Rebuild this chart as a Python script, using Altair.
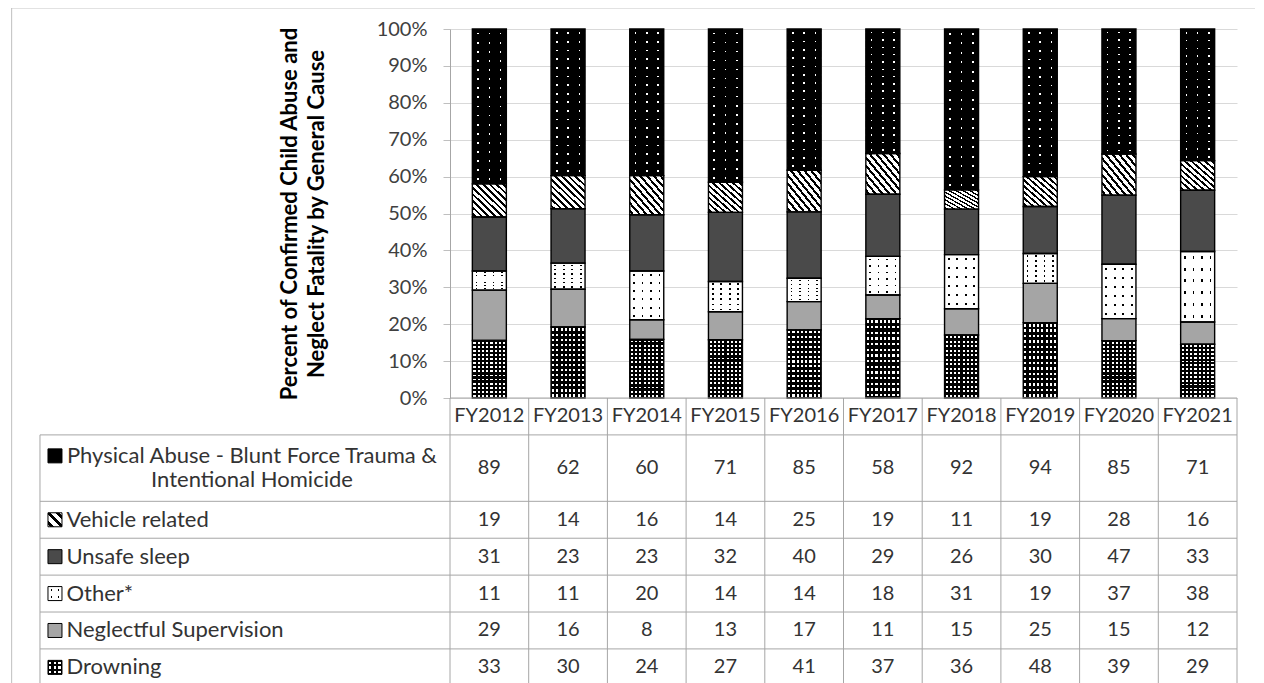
import altair as alt
import pandas as pd

# ---------------- data ----------------
years = ["FY2012", "FY2013", "FY2014", "FY2015", "FY2016",
         "FY2017", "FY2018", "FY2019", "FY2020", "FY2021"]
causes = ["Physical Abuse - Blunt Force Trauma & Intentional Homicide",
          "Vehicle related", "Unsafe sleep", "Other*",
          "Neglectful Supervision", "Drowning"]
cause_lines = [["Physical Abuse - Blunt Force Trauma &", "Intentional Homicide"],
               ["Vehicle related"], ["Unsafe sleep"], ["Other*"],
               ["Neglectful Supervision"], ["Drowning"]]
physical = [89, 62, 60, 71, 85, 58, 92, 94, 85, 71]
vehicle = [19, 14, 16, 14, 25, 19, 11, 19, 28, 16]
unsafe = [31, 23, 23, 32, 40, 29, 26, 30, 47, 33]
other = [11, 11, 20, 14, 14, 18, 31, 19, 37, 38]
neglect = [29, 16, 8, 13, 17, 11, 15, 25, 15, 12]
drowning = [33, 30, 24, 27, 41, 37, 36, 48, 39, 29]
series = [physical, vehicle, unsafe, other, neglect, drowning]
y_title = ["Percent of Confirmed Child Abuse and", "Neglect Fatality by General Cause"]

# ---------------- layout (plot units) ----------------
PLOT_W, PLOT_H = 787, 369
BAR_W = 0.432            # bar width as a fraction of a column
TABLE_LEFT = -5.21       # left edge of the legend column (column units)
FRAME_LEFT = -5.57
FRAME_TOP = 1.057
FRAME_RIGHT = 10.4
HEADER_H = 0.1
ROW_H = 0.1
EXTRA_LINE = 0.8
LINE_PX = 24.5
BOTTOM = -1.0
FONT = "Lato"
TXT = "#333333"
TABLE_LINE = "#a6a6a6"

# long table
recs = []
n_c = len(causes)
for ci, (c, vals) in enumerate(zip(causes, series)):
    for yi, (yr, v) in enumerate(zip(years, vals)):
        recs.append(dict(year=yr, idx=yi, cause=c, count=v,
                         stack_order=n_c - 1 - ci))
df = pd.DataFrame(recs)

# table rows
rows = []
top = -HEADER_H
for ci, c in enumerate(causes):
    nl = len(cause_lines[ci])
    h = ROW_H * (1 + EXTRA_LINE * (nl - 1))
    mid = top - h / 2
    rows.append(dict(cause=c, top=top, bottom=top - h, mid=mid,
                     key_y=mid + (nl - 1) * (LINE_PX / PLOT_H) / 2,
                     lines=cause_lines[ci], nlines=nl, tl=TABLE_LEFT,
                     tc=TABLE_LEFT / 2))
    top -= h
rows_df = pd.DataFrame(rows)
num_df = df.merge(rows_df[["cause", "mid"]], on="cause")
num_df["cx"] = num_df["idx"] + 0.5
hdr_df = pd.DataFrame(dict(year=years, cx=[i + 0.5 for i in range(len(years))],
                           cy=[-HEADER_H / 2] * len(years)))

hlines = [dict(y=0.0, x=0.0, x2=float(len(years)))]
hlines.append(dict(y=-HEADER_H, x=TABLE_LEFT, x2=float(len(years))))
for r in rows:
    hlines.append(dict(y=r["bottom"], x=TABLE_LEFT, x2=float(len(years))))
hl_df = pd.DataFrame(hlines)
vlines = [dict(x=float(i), y=0.0, y2=BOTTOM) for i in range(len(years) + 1)]
vlines.append(dict(x=TABLE_LEFT, y=-HEADER_H, y2=BOTTOM))
vl_df = pd.DataFrame(vlines)
frame_df = pd.DataFrame([dict(x=FRAME_LEFT, x2=FRAME_RIGHT, y=FRAME_TOP, y2=BOTTOM)])

XS = alt.Scale(domain=[0, 10], nice=False, zero=False)
YS = alt.Scale(domain=[0, 1], nice=False, zero=False)

yaxis = alt.Axis(
    values=[i / 10 for i in range(11)], format=".0%",
    labelFont=FONT, labelFontSize=20, labelColor="#404040", labelPadding=16,
    tickSize=7, tickColor="#bfbfbf", domainColor=TABLE_LINE,
    grid=True, gridColor="#d9d9d9",
    title=y_title, titleFont=FONT, titleFontSize=22, titleFontWeight="bold",
    titleColor="#000000", titleLineHeight=27, titlePadding=48)


def X(f):
    return alt.X(f, type="quantitative", scale=XS, axis=None)


def Y(f):
    return alt.Y(f, type="quantitative", scale=YS, axis=yaxis)


def stripes(n, frac, on, off, orient):
    stops = []
    for k in range(n):
        a = (k + 0.5 - frac / 2) / n
        b = (k + 0.5 + frac / 2) / n
        stops += [(off, k / n), (off, a), (on, a), (on, b), (off, b)]
    stops.append((off, 1.0))
    coords = {"x": dict(x1=0, y1=0, x2=1, y2=0),
              "y": dict(x1=0, y1=0, x2=0, y2=1),
              "d": dict(x1=0, y1=1, x2=1, y2=0)}[orient]
    return alt.LinearGradient(
        gradient="linear",
        stops=[alt.GradientStop(color=c, offset=round(o, 5)) for c, o in stops],
        **coords)


CLEAR_K = "rgba(0,0,0,0)"
CLEAR_W = "rgba(255,255,255,0)"
bar_fills = {
    causes[0]: [stripes(3, 0.14, "#ffffff", "#000000", "x"),
                stripes(17, 0.2, CLEAR_K, "#000000", "y")],
    causes[1]: [stripes(10, 0.4, "#000000", "#ffffff", "d")],
    causes[2]: ["#4a4a4a"],
    causes[3]: [stripes(4, 0.2, "#000000", "#ffffff", "x"),
                stripes(6, 0.25, CLEAR_W, "#ffffff", "y")],
    causes[4]: ["#a5a5a5"],
    causes[5]: [stripes(8, 0.5, "#ffffff", "#000000", "x"),
                stripes(14, 0.45, CLEAR_K, "#000000", "y")],
}
key_fills = {
    causes[0]: ["#000000"],
    causes[1]: [stripes(3, 0.45, "#000000", "#ffffff", "d")],
    causes[2]: ["#4a4a4a"],
    causes[3]: [stripes(2, 0.25, "#000000", "#ffffff", "x"),
                stripes(2, 0.25, CLEAR_W, "#ffffff", "y")],
    causes[4]: ["#a5a5a5"],
    causes[5]: [stripes(3, 0.5, "#ffffff", "#000000", "x"),
                stripes(3, 0.5, CLEAR_K, "#000000", "y")],
}

layers = []

# outer frame
frame = alt.Chart(frame_df)
layers.append(frame.mark_rule(color="#bfbfbf", strokeWidth=1).encode(
    x=X("x"), y=Y("y"), y2="y2"))
layers.append(frame.mark_rule(color="#bfbfbf", strokeWidth=1).encode(
    x=X("x"), x2="x2", y=Y("y")))

# stacked bars
bars = alt.Chart(df).transform_stack(
    stack="count", groupby=["year"], as_=["y0", "y1"], offset="normalize",
    sort=[alt.SortField("stack_order", order="ascending")]
).transform_calculate(
    bx0=f"datum.idx + 0.5 - {BAR_W / 2}",
    bx1=f"datum.idx + 0.5 + {BAR_W / 2}",
)

for c in causes:
    for f in bar_fills[c]:
        layers.append(bars.transform_filter(alt.datum.cause == c).mark_bar(
            fill=f, strokeWidth=0).encode(
            x=X("bx0"), x2="bx1", y=Y("y0"), y2="y1"))
layers.append(bars.mark_bar(fillOpacity=0, stroke="#000000", strokeWidth=1.4).encode(
    x=X("bx0"), x2="bx1", y=Y("y0"), y2="y1"))

# table grid
layers.append(alt.Chart(hl_df).mark_rule(color=TABLE_LINE, strokeWidth=1).encode(
    x=X("x"), x2="x2", y=Y("y")))
layers.append(alt.Chart(vl_df).mark_rule(color=TABLE_LINE, strokeWidth=1).encode(
    x=X("x"), y=Y("y"), y2="y2"))

# header and numbers
layers.append(alt.Chart(hdr_df).mark_text(
    font=FONT, fontSize=20, color=TXT, baseline="middle", align="center").encode(
    x=X("cx"), y=Y("cy"), text="year:N"))
layers.append(alt.Chart(num_df).mark_text(
    font=FONT, fontSize=20, color=TXT, baseline="middle", align="center").encode(
    x=X("cx"), y=Y("mid"), text="count:Q"))

# legend keys
KEY_SIZE = 14 * 14
for c in causes:
    for f in key_fills[c]:
        layers.append(alt.Chart(rows_df).transform_filter(alt.datum.cause == c).mark_square(
            size=KEY_SIZE, fill=f, opacity=1, strokeWidth=0, xOffset=15).encode(
            x=X("tl"), y=Y("key_y")))
layers.append(alt.Chart(rows_df).mark_square(
    size=KEY_SIZE, fillOpacity=0, stroke="#000000", strokeWidth=1, filled=False,
    xOffset=15).encode(x=X("tl"), y=Y("key_y")))

# legend labels
layers.append(alt.Chart(rows_df).transform_filter(alt.datum.nlines == 1).mark_text(
    font=FONT, fontSize=22, color=TXT, baseline="middle", align="left",
    dx=26.5).encode(x=X("tl"), y=Y("mid"), text="lines"))
layers.append(alt.Chart(rows_df).transform_filter(alt.datum.nlines > 1).mark_text(
    font=FONT, fontSize=22, color=TXT, baseline="middle", align="center",
    dx=7, dy=-LINE_PX / 2, lineHeight=LINE_PX).encode(
    x=X("tc"), y=Y("mid"), text="lines"))

chart = alt.layer(*layers).properties(
    width=PLOT_W, height=PLOT_H,
    padding={"left": 442, "top": 21, "right": 18, "bottom": 285},
    autosize=alt.AutoSizeParams(type="none"),
).configure_view(stroke=None)

chart.save("out.html", embed_options={"renderer": "svg", "actions": False})
